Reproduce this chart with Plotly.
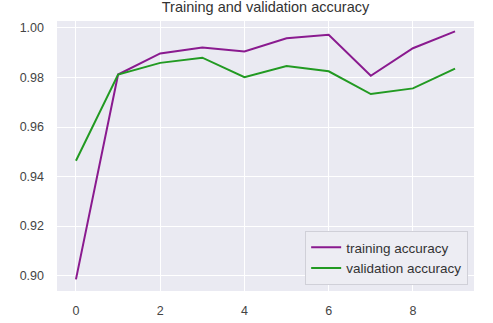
import plotly.graph_objects as go

epochs = list(range(10))
train_acc = [0.8985, 0.9812, 0.9897, 0.9921, 0.9905, 0.9958, 0.9972, 0.9807, 0.9918, 0.9986]
val_acc = [0.9464, 0.9812, 0.9859, 0.9880, 0.9801, 0.9846, 0.9825, 0.9733, 0.9756, 0.9836]

y_ticks = [0.90, 0.92, 0.94, 0.96, 0.98, 1.00]
x_ticks = [0, 2, 4, 6, 8]

fig = go.Figure()
fig.add_trace(go.Scatter(x=epochs, y=train_acc, mode="lines", name="training accuracy",
                         line=dict(color="#8a1a8f", width=2)))
fig.add_trace(go.Scatter(x=epochs, y=val_acc, mode="lines", name="validation accuracy",
                         line=dict(color="#229a22", width=2)))

axis_font = dict(family="Liberation Sans, Arial, sans-serif", size=12.5, color="#444444")
fig.update_layout(
    width=493, height=323,
    margin=dict(l=57, r=19, t=21, b=32),
    paper_bgcolor="white", plot_bgcolor="#EAEAF2",
    font=axis_font,
    title=dict(text="Training and validation accuracy", x=(57 + 474) / 2 / 493, xanchor="center",
               yref="container", y=0.995, yanchor="top", font=dict(size=14.5, color="#333333")),
    xaxis=dict(range=[-0.45, 9.45], tickvals=x_ticks, showgrid=True, gridcolor="white", gridwidth=1.2,
               zeroline=False, ticks="", ticklabelstandoff=10, showline=False, automargin=False),
    yaxis=dict(range=[0.8938, 1.0028], tickvals=y_ticks, tickformat=".2f", showgrid=True,
               gridcolor="white", gridwidth=1.2, zeroline=False, ticks="", ticklabelstandoff=12,
               showline=False, automargin=False),
    legend=dict(x=0.986, y=0.022, xanchor="right", yanchor="bottom", bgcolor="#EDEDF3",
                bordercolor="#D0D0D8", borderwidth=1, font=dict(size=13.5, color="#333333"),
                tracegroupgap=0, itemwidth=30),
    showlegend=True,
)

# the page body has a default 8px margin; drop it so the figure fills the window
fig.write_html("out.html", config={"displayModeBar": False},
               post_script="document.body.style.margin='0';")
